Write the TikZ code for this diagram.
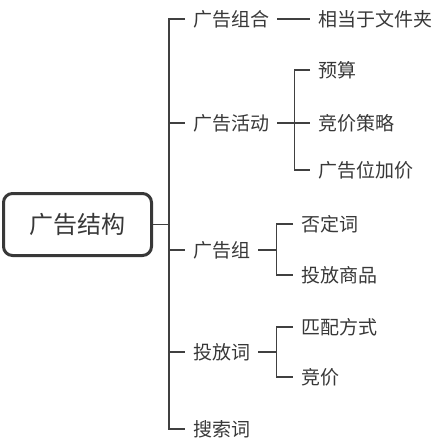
\documentclass[tikz,border=0pt]{standalone}
\usepackage{fontspec}
\usetikzlibrary{calc}
\newfontfamily\cjk{Noto Sans CJK SC}
\definecolor{linegray}{HTML}{404040}
\definecolor{textgray}{HTML}{383838}
\tikzset{
  conn/.style={draw=linegray, line width=1.4pt},
  rootbox/.style={draw=textgray, line width=3pt, rounded corners=9pt, minimum width=148pt, minimum height=62pt, inner sep=0pt, font=\cjk\fontsize{24}{28}\selectfont, text=textgray},
  lbl/.style={anchor=west, inner xsep=8pt, inner ysep=0pt, font=\cjk\fontsize{19}{23}\selectfont, text=textgray},
}
\begin{document}
\begin{tikzpicture}[x=1pt,y=-1pt]
\useasboundingbox (0,0) rectangle (443,446);
\node[rootbox] (root) at (77.5,224.5) {广告结构};
% level 1
\node[lbl] (g1) at (185,19) {广告组合};
\node[lbl] (g2) at (185,123) {广告活动};
\node[lbl] (g3) at (185,250) {广告组};
\node[lbl] (g4) at (185,352) {投放词};
\node[lbl] (g5) at (185,429) {搜索词};
% level 2
\node[lbl] (c11) at (310,19) {相当于文件夹};
\node[lbl] (c21) at (310,70) {预算};
\node[lbl] (c22) at (310,123) {竞价策略};
\node[lbl] (c23) at (310,170) {广告位加价};
\node[lbl] (c31) at (293,224) {否定词};
\node[lbl] (c32) at (293,275) {投放商品};
\node[lbl] (c41) at (293,327) {匹配方式};
\node[lbl] (c42) at (293,377) {竞价};
% trunk
\coordinate (tj) at (169,224.5);
\draw[conn] (root.east) -- (tj);
\draw[conn] (g1.west) -| (tj) |- (g5.west);
\draw[conn] (tj |- g2.west) -- (g2.west);
\draw[conn] (tj |- g3.west) -- (g3.west);
\draw[conn] (tj |- g4.west) -- (g4.west);
% level 1 -> level 2
\draw[conn] (g1.east) -- (c11.west);
\coordinate (b2) at ($(g2.east)+(17,0)$);
\draw[conn] (g2.east) -- (b2);
\draw[conn] (c21.west) -| (b2) |- (c23.west);
\draw[conn] (b2) -- (c22.west);
\coordinate (b3) at ($(g3.east)+(18,0)$);
\draw[conn] (g3.east) -- (b3);
\draw[conn] (c31.west) -| (b3) |- (c32.west);
\coordinate (b4) at ($(g4.east)+(18,0)$);
\draw[conn] (g4.east) -- (b4);
\draw[conn] (c41.west) -| (b4) |- (c42.west);
\end{tikzpicture}
\end{document}
